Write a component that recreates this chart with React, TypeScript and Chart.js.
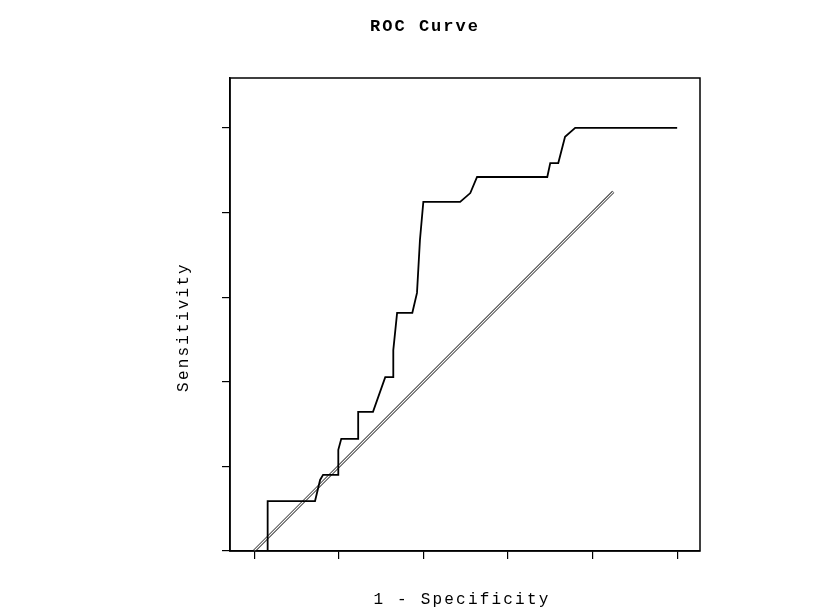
import React, { useEffect, useRef } from "react";
import { Chart, registerables } from "chart.js";

Chart.register(...registerables);

const chartTitle = "ROC Curve";
const xAxisLabel = "1 - Specificity";
const yAxisLabel = "Sensitivity";

// ROC curve (1 - specificity, sensitivity)
const fprValues = [0.032, 0.032, 0.144, 0.156, 0.163, 0.199, 0.199, 0.206, 0.246, 0.246, 0.281, 0.31, 0.329, 0.329, 0.338, 0.374, 0.385, 0.392, 0.4, 0.487, 0.511, 0.527, 0.693, 0.7, 0.719, 0.735, 0.759, 1.0];
const tprValues = [0.0, 0.118, 0.118, 0.168, 0.18, 0.18, 0.239, 0.265, 0.265, 0.329, 0.329, 0.411, 0.411, 0.475, 0.563, 0.563, 0.61, 0.735, 0.825, 0.825, 0.846, 0.884, 0.884, 0.917, 0.917, 0.979, 1.0, 1.0];

// reference diagonal
const refX = [0, 0.849];
const refY = [0, 0.849];

const xTickValues = [0, 0.2, 0.4, 0.6, 0.8, 1.0];
const yTickValues = [0, 0.2, 0.4, 0.6, 0.8, 1.0];

const xMin = -0.057;
const xMax = 1.054;
const yMin = 0;
const yMax = 1.118;

const FONT = "'Liberation Mono', 'DejaVu Sans Mono', monospace";

const framePlugin = {
  id: "framePlugin",
  afterDraw(chart: any) {
    const { ctx, chartArea } = chart;
    ctx.save();
    ctx.strokeStyle = "#000";
    ctx.lineWidth = 1.5;
    ctx.strokeRect(chartArea.left, chartArea.top, chartArea.right - chartArea.left, chartArea.bottom - chartArea.top);
    ctx.fillStyle = "#000";
    ctx.textAlign = "center";
    ctx.textBaseline = "middle";
    (ctx as any).letterSpacing = "2px";
    ctx.font = `bold 17px ${FONT}`;
    ctx.fillText(chartTitle, 425, 27);
    ctx.font = `16px ${FONT}`;
    (ctx as any).letterSpacing = "2.2px";
    ctx.fillText(xAxisLabel, 462, 600);
    ctx.translate(184, 327);
    ctx.rotate(-Math.PI / 2);
    ctx.fillText(yAxisLabel, 0, 0);
    ctx.restore();
  },
};

export default function App() {
  const canvasRef = useRef<HTMLCanvasElement | null>(null);

  useEffect(() => {
    if (!canvasRef.current) return;
    const rocData = fprValues.map((x, i) => ({ x, y: tprValues[i] }));
    const diagData = refX.map((x, i) => ({ x, y: refY[i] }));
    const chart = new Chart(canvasRef.current, {
      type: "scatter",
      data: {
        datasets: [
          {
            data: rocData,
            showLine: true,
            borderColor: "#000",
            borderWidth: 1.8,
            pointRadius: 0,
            tension: 0,
            order: 0,
          },
          {
            data: diagData,
            showLine: true,
            borderColor: "#fff",
            borderWidth: 1.2,
            pointRadius: 0,
            tension: 0,
            order: 1,
          },
          {
            data: diagData,
            showLine: true,
            borderColor: "#333",
            borderWidth: 3,
            pointRadius: 0,
            tension: 0,
            order: 2,
          },
        ],
      },
      options: {
        animation: false,
        responsive: true,
        maintainAspectRatio: false,
        layout: { padding: { top: 78, right: 135, bottom: 0, left: 0 } },
        plugins: {
          legend: { display: false },
          title: { display: false },
          tooltip: { enabled: false },
        },
        scales: {
          x: {
            type: "linear",
            min: xMin,
            max: xMax,
            afterBuildTicks: (scale: any) => {
              scale.ticks = xTickValues.map((v) => ({ value: v }));
            },
            afterFit: (scale: any) => {
              scale.height = 61;
            },
            ticks: { display: false },
            grid: {
              drawOnChartArea: false,
              drawTicks: true,
              tickLength: 8,
              color: "#000",
              lineWidth: 1.2,
            },
            border: { display: true, color: "#000", width: 1.5 },
          },
          y: {
            type: "linear",
            min: yMin,
            max: yMax,
            afterBuildTicks: (scale: any) => {
              scale.ticks = yTickValues.map((v) => ({ value: v }));
            },
            afterFit: (scale: any) => {
              scale.width = 230;
            },
            ticks: { display: false },
            grid: {
              drawOnChartArea: false,
              drawTicks: true,
              tickLength: 8,
              color: "#000",
              lineWidth: 1.2,
            },
            border: { display: true, color: "#000", width: 1.5 },
          },
        },
      },
      plugins: [framePlugin],
    });
    return () => chart.destroy();
  }, []);

  return (
    <div style={{ position: "fixed", left: 0, top: 0, width: 835, height: 612, background: "#fff" }}>
      <canvas ref={canvasRef} />
    </div>
  );
}
